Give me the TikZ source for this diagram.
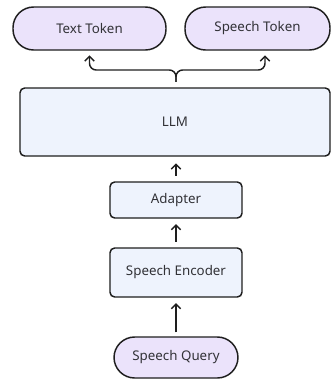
\documentclass[tikz,border=0pt]{standalone}
\usepackage{fontspec}
\setmainfont{Noto Sans}
\usetikzlibrary{arrows.meta}

\definecolor{tokfill}{RGB}{235,227,251}
\definecolor{boxfill}{RGB}{238,243,253}
\definecolor{edge}{RGB}{30,30,30}
\definecolor{txt}{RGB}{50,50,55}

\tikzset{every picture/.style={line width=1.1pt}}
\tikzset{
  token/.style={draw=edge, fill=tokfill, text=txt, rounded corners=15.5pt, inner sep=0pt, font=\fontsize{10}{12}\selectfont},
  block/.style={draw=edge, fill=boxfill, text=txt, rounded corners=3.5pt, inner sep=0pt, font=\fontsize{10}{12}\selectfont},
  flow/.style={draw=edge, -{Straight Barb[length=3.5pt,width=7pt]}},
}

\begin{document}
\begin{tikzpicture}[x=0.75pt,y=0.75pt,yscale=-1,xscale=1]
\useasboundingbox (0,0) rectangle (331,380);

% Output tokens
\node [token, minimum width=114.75pt, minimum height=32.25pt] (txttok) at (89.5,28.5) {Text Token};
\node [token, minimum width=108.75pt, minimum height=32.25pt] (sptok) at (257.5,28.5) {Speech Token};

% LLM
\node [block, minimum width=232.5pt, minimum height=51pt] (llm) at (175,122) {LLM};

% Adapter
\node [block, minimum width=99pt, minimum height=27pt] (adapter) at (176,200) {Adapter};

% Speech Encoder
\node [block, minimum width=99pt, minimum height=36.75pt] (encoder) at (176,272.5) {Speech Encoder};

% Speech Query
\node [token, minimum width=93pt, minimum height=30.75pt] (query) at (176,357.5) {Speech Query};

% Split above LLM (yshift is flipped by yscale=-1)
\coordinate (split) at (176,70);
\coordinate (stem) at ([yshift=-4pt]llm.north -| split);
\draw [flow, rounded corners=5pt] (stem) -- (split) -| ([yshift=3.5pt]txttok.south);
\draw [flow, rounded corners=5pt] (stem) -- (split) -| ([yshift=3.5pt]sptok.south -| 265,0);

% Vertical flow
\draw [flow] ([yshift=-4pt]adapter.north) -- ([yshift=5pt]adapter.north |- llm.south);
\draw [flow] ([yshift=-4pt]encoder.north) -- ([yshift=4pt]encoder.north |- adapter.south);
\draw [flow] ([yshift=-3pt]query.north) -- ([yshift=4pt]query.north |- encoder.south);

\end{tikzpicture}
\end{document}
